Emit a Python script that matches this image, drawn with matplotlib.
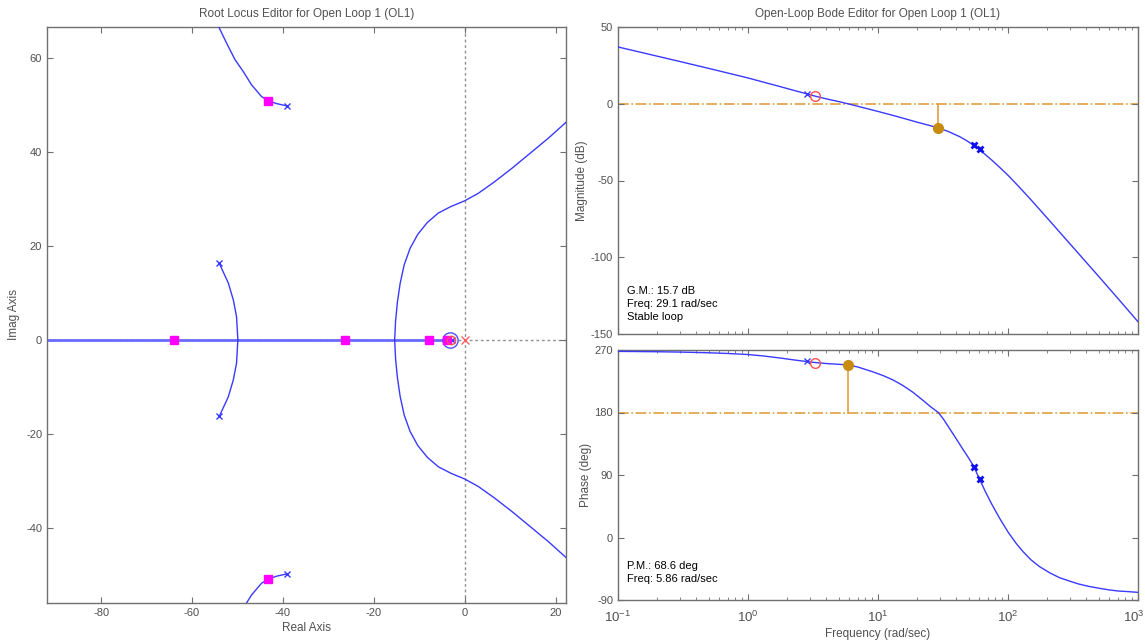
import numpy as np
import matplotlib
matplotlib.use("Agg")
import matplotlib.pyplot as plt
from matplotlib.transforms import ScaledTranslation

# ---------------- data ----------------
# Root locus branches: real / imag parts
br_right_re = [-15.4, -15.2, -14.8, -14.2, -13.3, -12.0, -10.3, -8.2, -5.8, -3.0, 0.0,
               3.0, 6.5, 10.5, 14.5, 18.5, 22.4, 24.0]
br_right_im = [0.0, 4.0, 8.0, 12.0, 16.0, 19.5, 22.5, 25.0, 27.0, 28.4, 29.6,
               31.2, 33.6, 36.6, 39.8, 43.0, 46.4, 47.6]

br_mid_re = [-54.0, -52.0, -50.9, -50.2, -49.9]
br_mid_im = [16.3, 12.1, 8.5, 5.0, 0.0]

br_left_re = [-39.1, -41.4, -43.2, -44.7, -46.9, -48.7, -50.5, -52.3, -54.1, -55.0]
br_left_im = [49.8, 50.3, 50.9, 51.8, 54.3, 57.1, 59.6, 63.0, 66.6, 68.5]

real_axis_seg = [-95.0, -3.3]

plant_pole_re = [-54.0, -54.0, -39.1, -39.1, -2.8]
plant_pole_im = [16.3, -16.3, 49.8, -49.8, 0.0]
plant_zero_re = [-3.3]
plant_zero_im = [0.0]
comp_pole_re = [0.0]
comp_zero_re = [-2.9]
cl_pole_re = [-64.0, -26.4, -7.9, -3.8, -43.2, -43.2]
cl_pole_im = [0.0, 0.0, 0.0, 0.0, 50.9, -50.9]

# Bode magnitude
mag_freq = [0.1, 0.15, 0.2, 0.3, 0.5, 0.7, 1.0, 1.3, 1.76, 2.3, 2.82, 3.27, 4.0, 5.0, 5.86,
            7.5, 10, 14, 20, 25, 29.1, 35, 42.4, 48, 54.6, 59.4, 65, 75, 85, 100, 120, 150,
            200, 300, 500, 700, 1000]
mag_db = [37.0, 33.5, 31.0, 27.5, 23.0, 20.0, 16.8, 14.2, 11.2, 8.5, 6.5, 5.0, 3.2, 1.4, 0.0,
          -2.3, -5.0, -8.3, -12.0, -14.2, -15.7, -18.2, -21.4, -24.0, -27.1, -29.5, -32.2,
          -36.7, -40.9, -46.6, -53.6, -62.5, -74.4, -91.3, -112.6, -126.8, -142.0]

# Bode phase
ph_freq = [0.1, 0.2, 0.3, 0.5, 0.7, 1.0, 1.3, 1.76, 2.3, 2.79, 3.27, 4.0, 4.8, 5.86, 7.0,
           9.15, 11, 13, 15.5, 18.6, 22, 25.5, 29.1, 32, 35.5, 40, 45, 50, 54.6, 60.4, 67,
           75, 86, 100, 115, 130, 150, 175, 210, 250, 300, 350, 420, 500, 600, 700, 850, 1000]
ph_deg = [268.0, 267.5, 267.0, 266.0, 265.0, 263.5, 261.5, 258.5, 255.5, 253.5, 252.0, 250.5,
          249.6, 248.6, 245.5, 238.5, 233.0, 227.0, 219.0, 209.0, 198.0, 188.0, 180.0, 170.0,
          157.0, 142.0, 127.0, 114.0, 102.0, 84.0, 66.0, 48.0, 28.0, 8.0, -8.0, -20.0, -32.0,
          -42.0, -51.0, -58.0, -63.0, -67.0, -70.5, -73.0, -75.5, -77.0, -78.0, -79.0]

gm_freq, gm_db = 29.1, -15.7
pm_freq, pm_deg = 5.86, 248.6
bode_pole_freq = [2.82, 54.6, 60.4]
bode_pole_mag = [6.5, -27.1, -29.8]
bode_pole_ph = [253.5, 102.0, 84.0]
bode_zero_freq = [3.27]
bode_zero_mag = [5.0]
bode_zero_ph = [252.0]

rl_xticks = [-80, -60, -40, -20, 0, 20]
rl_yticks = [-40, -20, 0, 20, 40, 60]
mag_ticks = [-150, -100, -50, 0, 50]
ph_ticks = [-90, 0, 90, 180, 270]
freq_ticks = [0.1, 1, 10, 100, 1000]
freq_labels = ['$10^{-1}$', '$10^{0}$', '$10^{1}$', '$10^{2}$', '$10^{3}$']

# ---------------- style ----------------
plt.rcParams['font.family'] = ['Liberation Sans', 'DejaVu Sans']
plt.rcParams['axes.unicode_minus'] = False
plt.rcParams['mathtext.fontset'] = 'custom'
plt.rcParams['mathtext.rm'] = 'Liberation Sans'
plt.rcParams['mathtext.it'] = 'Liberation Sans:italic'
plt.rcParams['mathtext.bf'] = 'Liberation Sans:bold'
plt.rcParams['mathtext.default'] = 'regular'

GREY = '#707070'
TXT = '#505050'
BLUE = '#3a3aff'
ORANGE = '#e0a040'
DOT = '#c98a10'
MAG = '#ff00ff'

fig = plt.figure(figsize=(11.45, 6.41), dpi=100)
fig.patch.set_facecolor('white')

W, H = 1145.0, 641.0
def rect(x0, y0, x1, y1):
    return [x0 / W, 1 - y1 / H, (x1 - x0) / W, (y1 - y0) / H]

ax_rl = fig.add_axes(rect(47, 27, 566, 603))
ax_m = fig.add_axes(rect(618, 27, 1138, 334))
ax_p = fig.add_axes(rect(618, 350, 1138, 600), sharex=ax_m)

def style(ax):
    for s in ax.spines.values():
        s.set_color(GREY)
        s.set_linewidth(1.0)
    ax.tick_params(which='both', direction='in', top=True, right=True,
                   colors=GREY, labelcolor=TXT, labelsize=8)
    ax.tick_params(which='major', length=4)
    ax.tick_params(which='minor', length=2.5)

# ---------------- root locus ----------------
style(ax_rl)
ax_rl.axvline(0, color='#909090', lw=1, ls=(0, (2, 2)), zorder=1)
ax_rl.axhline(0, color='#909090', lw=1, ls=(0, (2, 2)), zorder=1)
ax_rl.plot(real_axis_seg, [0, 0], color='#6a6aff', lw=2.0, zorder=2)
for sgn in (1, -1):
    ax_rl.plot(br_right_re, [sgn * v for v in br_right_im], color=BLUE, lw=1, zorder=3)
    ax_rl.plot(br_mid_re, [sgn * v for v in br_mid_im], color=BLUE, lw=1, zorder=3)
    ax_rl.plot(br_left_re, [sgn * v for v in br_left_im], color=BLUE, lw=1, zorder=3)
ax_rl.plot(plant_pole_re, plant_pole_im, ls='none', marker='x', color=BLUE, ms=5, mew=1, zorder=4)
ax_rl.plot(plant_zero_re, plant_zero_im, ls='none', marker='o', mfc='none', mec='#5050ff',
           ms=11, mew=1, zorder=4)
ax_rl.plot(cl_pole_re, cl_pole_im, ls='none', marker='s', color=MAG, ms=6, zorder=5)
ax_rl.plot(comp_zero_re, [0], ls='none', marker='o', mfc='none', mec='#ff5050', ms=6, mew=1, zorder=6)
ax_rl.plot(comp_pole_re, [0], ls='none', marker='x', color='#ff6060', ms=6, mew=1, zorder=6)
ax_rl.set_xlim(-91.9, 22.3)
ax_rl.set_ylim(-56.0, 66.6)
ax_rl.set_xticks(rl_xticks)
ax_rl.set_yticks(rl_yticks)
ax_rl.set_title('Root Locus Editor for Open Loop 1 (OL1)', fontsize=8.5, color=TXT, pad=7)
ax_rl.set_xlabel('Real Axis', fontsize=8.5, color=TXT, labelpad=3)
ax_rl.set_ylabel('Imag Axis', fontsize=8.5, color=TXT, labelpad=4)

# ---------------- bode magnitude ----------------
style(ax_m)
ax_m.set_xscale('log')
ax_m.axhline(0, color=ORANGE, lw=1.2, ls='-.', zorder=1)
ax_m.plot(mag_freq, mag_db, color=BLUE, lw=1, zorder=3)
ax_m.plot([gm_freq, gm_freq], [0, gm_db], color=ORANGE, lw=1.2, zorder=2)
ax_m.plot([gm_freq], [gm_db], marker='o', color=DOT, ms=7, ls='none', zorder=5)
ax_m.plot(bode_pole_freq[:1], bode_pole_mag[:1], ls='none', marker='x', color=BLUE, ms=5, mew=1, zorder=4)
ax_m.plot(bode_pole_freq[1:], bode_pole_mag[1:], ls='none', marker='x', color='#1010ee', ms=5, mew=2, zorder=4)
ax_m.plot(bode_zero_freq, bode_zero_mag, ls='none', marker='o', mfc='none', mec='#ff5050', ms=7, mew=1, zorder=4)
ax_m.set_xlim(0.1, 1000)
ax_m.set_ylim(-150, 50)
ax_m.set_yticks(mag_ticks)
ax_m.set_title('Open-Loop Bode Editor for Open Loop 1 (OL1)', fontsize=8.5, color=TXT, pad=7)
ax_m.set_ylabel('Magnitude (dB)', fontsize=8.5, color=TXT, labelpad=2)
ax_m.text(0.018, 0.155, 'G.M.: 15.7 dB\nFreq: 29.1 rad/sec\nStable loop', transform=ax_m.transAxes,
          fontsize=8, color='black', va='top', ha='left', linespacing=1.35)

# ---------------- bode phase ----------------
style(ax_p)
ax_p.axhline(180, color=ORANGE, lw=1.2, ls='-.', zorder=1)
ax_p.plot(ph_freq, ph_deg, color=BLUE, lw=1, zorder=3)
ax_p.plot([pm_freq, pm_freq], [180, pm_deg], color=ORANGE, lw=1.2, zorder=2)
ax_p.plot([pm_freq], [pm_deg], marker='o', color=DOT, ms=7, ls='none', zorder=5)
ax_p.plot(bode_pole_freq[:1], bode_pole_ph[:1], ls='none', marker='x', color=BLUE, ms=5, mew=1, zorder=4)
ax_p.plot(bode_pole_freq[1:], bode_pole_ph[1:], ls='none', marker='x', color='#1010ee', ms=5, mew=2, zorder=4)
ax_p.plot(bode_zero_freq, bode_zero_ph, ls='none', marker='o', mfc='none', mec='#ff5050', ms=7, mew=1, zorder=4)
ax_p.set_ylim(-90, 270)
ax_p.set_yticks(ph_ticks)
ax_p.set_xticks(freq_ticks, labels=freq_labels)
ax_p.set_xlim(0.1, 1000)
ax_p.tick_params(axis='x', which='major', labelsize=9.5, pad=7)
ax_m.tick_params(labelbottom=False)
ax_p.set_xlabel('Frequency (rad/sec)', fontsize=8.5, color=TXT, labelpad=2)
ax_p.set_ylabel('Phase (deg)', fontsize=8.5, color=TXT, labelpad=2)
ax_p.text(0.018, 0.155, 'P.M.: 68.6 deg\nFreq: 5.86 rad/sec', transform=ax_p.transAxes,
          fontsize=8, color='black', va='top', ha='left', linespacing=1.35)

last = ax_p.xaxis.get_major_ticks()[-1].label1
last.set_transform(last.get_transform() + ScaledTranslation(-4 / 100, 0, fig.dpi_scale_trans))

fig.savefig('out.png', dpi=100, facecolor='white')
